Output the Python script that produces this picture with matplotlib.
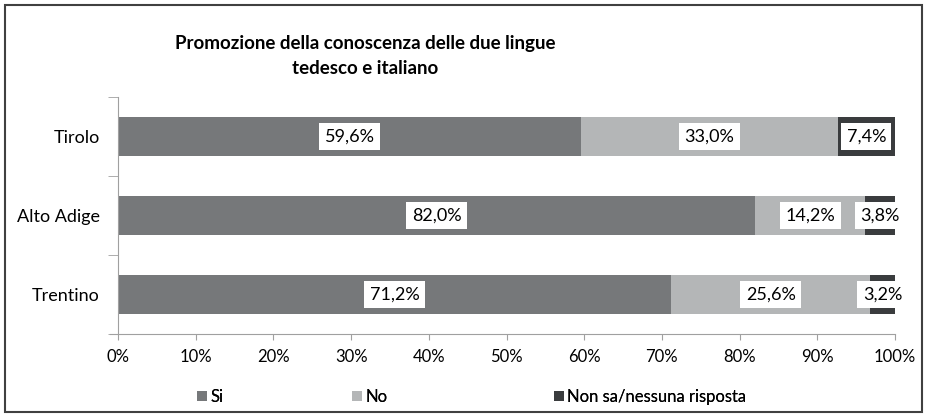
import matplotlib.pyplot as plt
import numpy as np
from matplotlib.patches import Rectangle

plt.rcParams['font.family'] = ['Lato', 'DejaVu Sans']

# Data
regions = ['Tirolo', 'Alto Adige', 'Trentino']
si = [59.6, 82.0, 71.2]
no = [33.0, 14.2, 25.6]
non_sa = [7.4, 3.8, 3.2]
series_names = ['Si', 'No', 'Non sa/nessuna risposta']
colors = ['#76787a', '#b4b6b7', '#3a3c3e']

fig = plt.figure(figsize=(9.27, 4.15), dpi=100)
ax = fig.add_axes([118 / 927, 1 - 334 / 415, (895 - 118) / 927, (334 - 97) / 415])

# outer frame of the chart area
fig.patches.append(Rectangle((5 / 927, 3 / 415), 917 / 927, 407 / 415, transform=fig.transFigure,
                             fill=False, edgecolor='#404040', linewidth=1.5))

y = np.arange(len(regions))[::-1]
left = np.zeros(len(regions))
handles = []
for vals, name, col in zip([si, no, non_sa], series_names, colors):
    bars = ax.barh(y, vals, left=left, height=0.5, color=col, label=name)
    handles.append(bars)
    for yi, l, v in zip(y, left, vals):
        ax.text(l + v / 2, yi, f'{v:.1f}%'.replace('.', ','), ha='center', va='center',
                fontsize=13, color='black',
                bbox=dict(boxstyle='square,pad=0.3', facecolor='white', edgecolor='none'))
    left = left + np.array(vals)

ax.set_xlim(0, 100)
ax.set_ylim(-0.5, 2.5)
ax.set_xticks(np.arange(0, 101, 10))
ax.set_xticklabels([f'{v}%' for v in range(0, 101, 10)], fontsize=12)
ax.set_yticks(y)
ax.set_yticklabels(regions, fontsize=13)
ax.set_yticks([-0.5, 0.5, 1.5, 2.5], minor=True)
ax.tick_params(axis='y', which='major', length=0, pad=13)
ax.tick_params(axis='y', which='minor', length=7, color='#a0a0a0', direction='out')
ax.tick_params(axis='x', length=4, color='#a0a0a0', direction='out', pad=7)

for s in ['top', 'right']:
    ax.spines[s].set_visible(False)
for s in ['left', 'bottom']:
    ax.spines[s].set_color('#a0a0a0')
ax.spines['bottom'].set_bounds(-1, 100)

fig.text(365 / 927, 1 - 56 / 415, 'Promozione della conoscenza delle due lingue\ntedesco e italiano',
         ha='center', va='center', fontsize=13.5, fontweight='bold', linespacing=1.55)

# legend entries placed one by one
legend_x = [197, 352, 554]
for h, name, lx in zip(handles, series_names, legend_x):
    leg = fig.legend(handles=[h], labels=[name], loc='center left',
                     bbox_to_anchor=(lx / 927, 1 - 397 / 415), frameon=False, fontsize=12,
                     handlelength=0.6, handleheight=0.6, handletextpad=0.2, borderpad=0,
                     borderaxespad=0)
    fig.add_artist(leg)

fig.savefig('out.png', dpi=100)
